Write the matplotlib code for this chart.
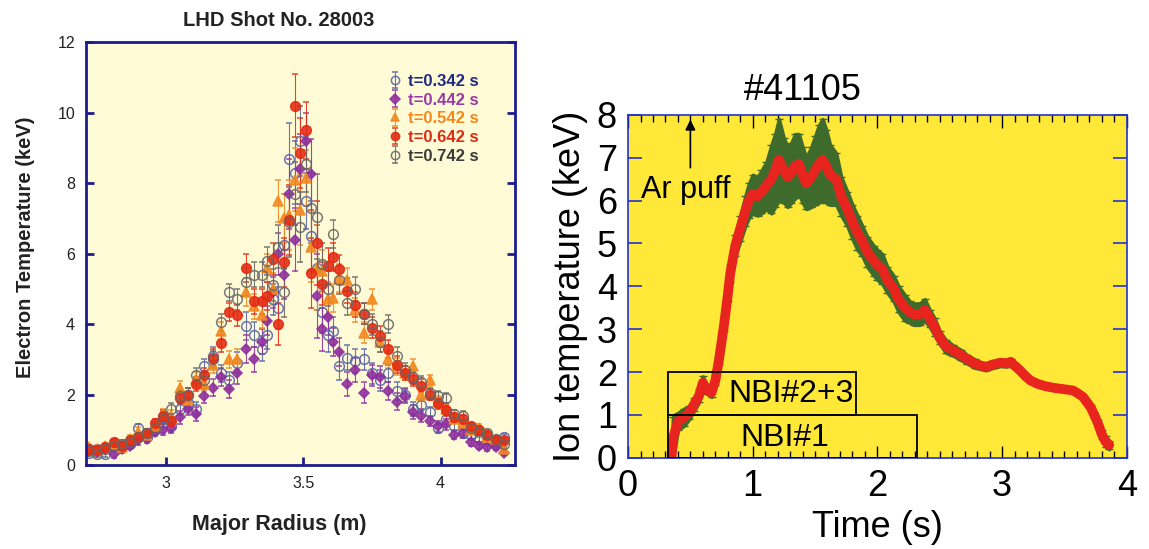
import matplotlib
matplotlib.use("Agg")
import matplotlib.pyplot as plt
from matplotlib.patches import Rectangle

plt.rcParams["font.family"] = ["Liberation Sans", "DejaVu Sans"]

# ---- left panel: LHD Thomson profiles ----
radius = [2.72, 2.75, 2.78, 2.81, 2.84, 2.87, 2.90, 2.93, 2.96, 2.99,
          3.02, 3.05, 3.08, 3.11, 3.14, 3.17, 3.20, 3.23, 3.26, 3.29,
          3.32, 3.35, 3.37, 3.39, 3.41, 3.43, 3.45, 3.47, 3.49, 3.51,
          3.53, 3.55, 3.57, 3.59, 3.61, 3.63, 3.66, 3.69, 3.72, 3.75,
          3.78, 3.81, 3.84, 3.87, 3.90, 3.93, 3.96, 3.99, 4.02, 4.05,
          4.08, 4.11, 4.14, 4.17, 4.20, 4.23]

te_0342 = [0.35, 0.45, 0.30, 0.50, 0.55, 0.60, 1.05, 0.80, 1.00, 1.35,
           1.10, 1.60, 1.75, 1.60, 2.80, 3.10, 2.60, 2.40, 2.90, 3.95,
           3.70, 3.30, 3.70, 4.70, 4.45, 6.25, 8.70, 8.30, 9.20, 7.50,
           6.50, 5.60, 4.35, 3.70, 3.80, 2.80, 3.05, 2.95, 3.00, 2.60,
           2.40, 2.60, 2.10, 2.00, 1.60, 1.70, 1.50, 1.05, 1.30, 1.10,
           0.90, 0.85, 0.75, 0.70, 0.60, 0.80]
te_0442 = [0.40, 0.38, 0.45, 0.30, 0.45, 0.55, 0.70, 0.75, 0.95, 1.00,
           1.05, 1.35, 1.60, 1.45, 1.95, 2.20, 2.50, 2.15, 2.60, 3.30,
           3.00, 3.50, 4.10, 4.90, 6.00, 5.40, 7.70, 6.40, 8.40, 9.20,
           8.25, 4.80, 3.85, 4.20, 3.50, 3.20, 2.30, 2.70, 2.05, 2.55,
           2.50, 2.10, 1.80, 1.95, 1.50, 1.40, 1.25, 1.10, 1.15, 0.85,
           0.90, 0.65, 0.55, 0.50, 0.50, 0.35]
te_0542 = [0.50, 0.45, 0.55, 0.60, 0.50, 0.75, 0.95, 0.85, 1.10, 1.45,
           1.40, 2.20, 1.85, 2.45, 2.30, 2.85, 3.80, 3.00, 3.00, 4.90,
           4.50, 4.25, 5.60, 5.00, 7.50, 7.00, 7.10, 8.10, 7.25, 8.15,
           6.20, 5.60, 5.50, 4.70, 4.75, 5.30, 5.25, 4.40, 3.75, 4.70,
           3.50, 3.00, 2.80, 2.60, 2.80, 2.00, 2.40, 1.80, 1.60, 1.30,
           1.20, 1.00, 1.05, 0.80, 0.75, 0.45]
te_0642 = [0.45, 0.42, 0.50, 0.65, 0.55, 0.70, 0.80, 0.90, 1.20, 1.40,
           1.25, 1.90, 2.00, 2.30, 2.55, 3.05, 3.45, 4.35, 4.25, 5.60,
           4.65, 4.65, 4.80, 5.85, 4.00, 5.75, 6.95, 10.20, 8.85, 9.50,
           5.45, 6.30, 5.15, 5.65, 5.90, 5.55, 4.95, 4.55, 4.30, 3.90,
           3.65, 3.30, 2.85, 2.60, 2.45, 2.25, 2.00, 1.75, 1.55, 1.35,
           1.30, 1.10, 1.00, 0.85, 0.70, 0.70]
te_0742 = [0.40, 0.30, 0.45, 0.55, 0.60, 0.65, 0.80, 0.90, 1.05, 1.30,
           1.60, 1.95, 2.00, 2.55, 2.40, 3.00, 4.05, 4.90, 4.70, 5.20,
           5.40, 5.40, 5.80, 5.10, 6.20, 4.90, 6.90, 7.70, 6.75, 8.55,
           7.30, 7.05, 5.70, 5.00, 6.55, 5.25, 4.60, 5.00, 4.30, 4.00,
           3.50, 4.00, 3.10, 2.70, 2.50, 2.35, 2.05, 1.95, 1.90, 1.45,
           1.40, 1.05, 0.95, 0.90, 0.75, 0.60]
te_err = [0.08, 0.08, 0.08, 0.10, 0.10, 0.10, 0.12, 0.12, 0.12, 0.15,
          0.15, 0.18, 0.18, 0.20, 0.20, 0.25, 0.25, 0.25, 0.30, 0.40,
          0.35, 0.35, 0.40, 0.45, 0.60, 0.70, 1.00, 0.90, 1.00, 0.80,
          1.00, 1.20, 0.60, 0.50, 0.40, 0.40, 0.35, 0.35, 0.30, 0.30,
          0.30, 0.25, 0.25, 0.20, 0.20, 0.18, 0.15, 0.15, 0.15, 0.12,
          0.12, 0.10, 0.10, 0.10, 0.08, 0.08]

series = [
    ("t=0.342 s", te_0342, "o", "none", "#5563a8", "#1f2b82"),
    ("t=0.442 s", te_0442, "D", "#8e2e9e", "#8e2e9e", "#9a3aa6"),
    ("t=0.542 s", te_0542, "^", "#f2881e", "#f2881e", "#f2881e"),
    ("t=0.642 s", te_0642, "o", "#e22a12", "#e22a12", "#dc2a14"),
    ("t=0.742 s", te_0742, "o", "none", "#666666", "#3a3a3a"),
]

# ---- right panel: ion temperature time trace ----
time_s = [0.35, 0.36, 0.40, 0.45, 0.49, 0.53, 0.57, 0.60, 0.63, 0.67,
          0.70, 0.73, 0.77, 0.80, 0.82, 0.86, 0.90, 0.94, 0.97, 1.00,
          1.04, 1.07, 1.11, 1.15, 1.18, 1.21, 1.25, 1.28, 1.31, 1.34,
          1.37, 1.40, 1.43, 1.47, 1.50, 1.53, 1.56, 1.59, 1.62, 1.67,
          1.71, 1.76, 1.80, 1.84, 1.88, 1.92, 1.97, 2.00, 2.04, 2.08,
          2.13, 2.17, 2.22, 2.26, 2.29, 2.34, 2.38, 2.42, 2.46, 2.50,
          2.55, 2.61, 2.67, 2.72, 2.78, 2.83, 2.87, 2.93, 2.99, 3.04,
          3.07, 3.10, 3.14, 3.19, 3.23, 3.29, 3.35, 3.42, 3.50, 3.57,
          3.61, 3.65, 3.68, 3.71, 3.74, 3.77, 3.80, 3.83, 3.86]
ti_kev = [0.05, 0.45, 0.85, 0.95, 1.05, 1.25, 1.45, 1.75, 1.60, 1.52,
          1.80, 2.30, 3.10, 3.80, 4.30, 4.95, 5.35, 5.75, 6.00, 6.15,
          6.10, 6.20, 6.35, 6.50, 6.70, 6.95, 6.70, 6.55, 6.65, 6.80,
          6.85, 6.60, 6.40, 6.55, 6.70, 6.85, 6.95, 6.80, 6.60, 6.50,
          6.10, 5.80, 5.50, 5.25, 5.05, 4.80, 4.60, 4.50, 4.40, 4.15,
          3.95, 3.70, 3.50, 3.40, 3.35, 3.35, 3.45, 3.25, 3.05, 2.80,
          2.60, 2.50, 2.40, 2.30, 2.20, 2.15, 2.12, 2.18, 2.22, 2.20,
          2.24, 2.15, 2.05, 1.90, 1.80, 1.72, 1.67, 1.63, 1.60, 1.57,
          1.50, 1.42, 1.30, 1.18, 1.00, 0.80, 0.55, 0.38, 0.30]
ti_err = [0.10, 0.50, 0.20, 0.20, 0.15, 0.15, 0.15, 0.15, 0.10, 0.10,
          0.10, 0.10, 0.15, 0.15, 0.20, 0.25, 0.30, 0.35, 0.40, 0.45,
          0.45, 0.50, 0.55, 0.80, 0.85, 0.95, 0.75, 0.70, 0.70, 0.75,
          0.70, 0.65, 0.60, 0.70, 0.80, 0.90, 0.95, 0.85, 0.70, 0.60,
          0.45, 0.40, 0.40, 0.40, 0.35, 0.35, 0.35, 0.35, 0.35, 0.30,
          0.30, 0.30, 0.30, 0.25, 0.25, 0.25, 0.25, 0.20, 0.20, 0.15,
          0.15, 0.12, 0.12, 0.10, 0.10, 0.08, 0.08, 0.08, 0.08, 0.07,
          0.07, 0.06, 0.05, 0.05, 0.04, 0.04, 0.04, 0.03, 0.03, 0.03,
          0.03, 0.03, 0.04, 0.05, 0.06, 0.08, 0.10, 0.12, 0.10]

# beam windows: label, t_on, t_off, row bottom, row top
nbi_boxes = [("NBI#2+3", 0.32, 1.83, 1.0, 2.0), ("NBI#1", 0.32, 2.32, 0.0, 1.0)]

fig = plt.figure(figsize=(11.49, 5.49), dpi=100)

# left
navy = "#1c1c8c"
ax1 = fig.add_axes([0.075, 0.153, 0.373, 0.770])
ax1.set_facecolor("#fffbd6")
for lab, te, mk, fc, ec, tc in series:
    ax1.errorbar(radius, te, yerr=te_err, fmt=mk, ms=7 if mk != "D" else 5.5,
                 mfc=fc, mec=ec, mew=1.1, ecolor=ec, elinewidth=0.8,
                 capsize=2.5, alpha=0.88, label=lab)
ax1.set_xlim(2.71, 4.27)
ax1.set_ylim(0, 12)
ax1.set_xticks([3, 3.5, 4])
ax1.set_xticklabels(["3", "3.5", "4"])
ax1.set_yticks(range(0, 13, 2))
ax1.tick_params(axis="both", direction="in", length=6, width=2, color=navy,
                labelsize=11.5, pad=8, labelcolor="#222222")
ax1.tick_params(axis="y", right=True)
for sp in ax1.spines.values():
    sp.set_color(navy)
    sp.set_linewidth(2)
ax1.set_title("LHD Shot No. 28003", fontsize=14.5, fontweight="bold",
              color="#222222", pad=12, x=0.45)
ax1.set_xlabel("Major Radius (m)", fontsize=15.5, fontweight="bold",
               color="#222222")
ax1.xaxis.set_label_coords(0.45, -0.115)
ax1.set_ylabel("Electron Temperature (keV)", fontsize=14.5, fontweight="bold",
               color="#222222")
ax1.yaxis.set_label_coords(-0.12, 0.515)
leg = ax1.legend(loc="upper right", bbox_to_anchor=(0.935, 0.945), frameon=False,
                 handlelength=0.6, handletextpad=0.5, labelspacing=0.22,
                 borderpad=0, markerscale=0.85,
                 prop={"weight": "bold", "size": 12},
                 labelcolor=[s[5] for s in series])

# right
ax2 = fig.add_axes([0.5466, 0.166, 0.434, 0.625])
ax2.set_facecolor("#ffe838")
green = "#3e6b2c"
red = "#e8241e"
lo = [v - e for v, e in zip(ti_kev, ti_err)]
hi = [v + e for v, e in zip(ti_kev, ti_err)]
ax2.fill_between(time_s, lo, hi, color=green, lw=2.5, edgecolor=green, zorder=2)
ax2.errorbar(time_s, ti_kev, yerr=ti_err, fmt="none", ecolor=green,
             elinewidth=1.2, capsize=3, zorder=2)
ax2.plot(time_s, ti_kev, color=red, lw=7, solid_capstyle="round", zorder=3)
for txt, x0, x1, y0, y1 in nbi_boxes:
    ax2.add_patch(Rectangle((x0, y0), x1 - x0, y1 - y0, fill=False,
                            edgecolor="black", lw=1.3, zorder=4))
ax2.text(1.31, 1.5, "NBI#2+3", ha="center", va="center", fontsize=23, zorder=5)
ax2.text(1.26, 0.47, "NBI#1", ha="center", va="center", fontsize=23, zorder=5)
ax2.annotate("", xy=(0.5, 7.95), xytext=(0.5, 6.7),
             arrowprops=dict(arrowstyle="-|>", color="black", lw=1.2,
                             mutation_scale=15))
ax2.text(0.46, 6.25, "Ar puff", ha="center", va="center", fontsize=22)
ax2.set_xlim(0, 4)
ax2.set_ylim(0, 8)
ax2.set_xticks(range(0, 5))
ax2.set_xticks([i / 10 for i in range(0, 41)], minor=True)
ax2.set_yticks(range(0, 9))
ax2.tick_params(axis="x", which="both", direction="in", top=True,
                color="black", width=1)
ax2.tick_params(axis="x", which="major", length=9)
ax2.tick_params(axis="x", which="minor", length=5)
ax2.tick_params(axis="y", direction="in", right=True, length=10, width=1.2,
                color="#2233cc")
ax2.tick_params(axis="both", labelsize=26, pad=8)
for sp in ax2.spines.values():
    sp.set_color("#2233cc")
    sp.set_linewidth(1.2)
ax2.text(1.4, 8.15, "#41105", ha="center", va="bottom", fontsize=26)
ax2.set_xlabel("Time (s)", fontsize=26, labelpad=4)
ax2.set_ylabel("Ion temperature (keV)", fontsize=26, labelpad=6)

fig.savefig("out.png", dpi=100)
